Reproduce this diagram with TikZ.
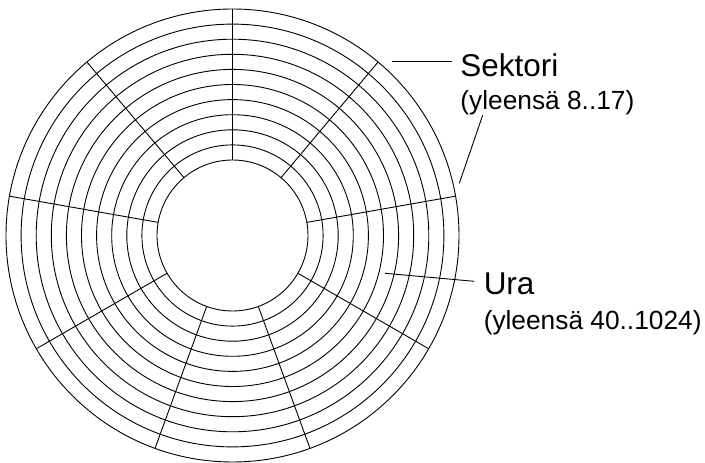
\documentclass[tikz,border=0pt]{standalone}
\usepackage{fontspec}
\setmainfont{Liberation Sans}
\usetikzlibrary{positioning, calc}

\begin{document}
\begin{tikzpicture}[x=1pt, y=1pt, line width=0.9pt,
    title/.style={inner sep=0pt, anchor=base west,
                  font=\fontsize{31.5}{36}\selectfont},
    note/.style={inner sep=0pt, anchor=base west,
                 font=\fontsize{26.3}{30}\selectfont}]
  \useasboundingbox (-232.5,-227.5) rectangle (472.5,235.5);
  \coordinate (disk) at (0,0);

  % tracks
  \foreach \k in {0,...,10}
    \draw (disk) circle ({75.5+15.1*\k});
  % sectors
  \foreach \a in {10,50,...,330}
    \draw ($(disk)+(\a:75.5)$) -- ($(disk)+(\a:226.5)$);

  % labels
  \node[title] (sektori) at (227.5,158.8) {Sektori};
  \node[note] (sektorinote) at (227.5,126.2) {(yleensä 8..17)};
  \node[title] (ura) at (250.8,-59.5) {Ura};
  \node[note] (uranote) at (250.8,-93.8) {(yleensä 40..1024)};

  % leaders
  \coordinate (sekA) at (159.2,173.8);
  \coordinate (sekB) at (226.8,52.2);
  \coordinate (uraA) at (152.5,-37.8);
  \draw (sekA) -- ([xshift=-8pt]sekA -| sektori.west);
  \draw ([xshift=22.7pt]sektorinote.south west) -- (sekB);
  \draw (uraA) -- ([xshift=-9pt, yshift=3pt]ura.west);
\end{tikzpicture}
\end{document}
